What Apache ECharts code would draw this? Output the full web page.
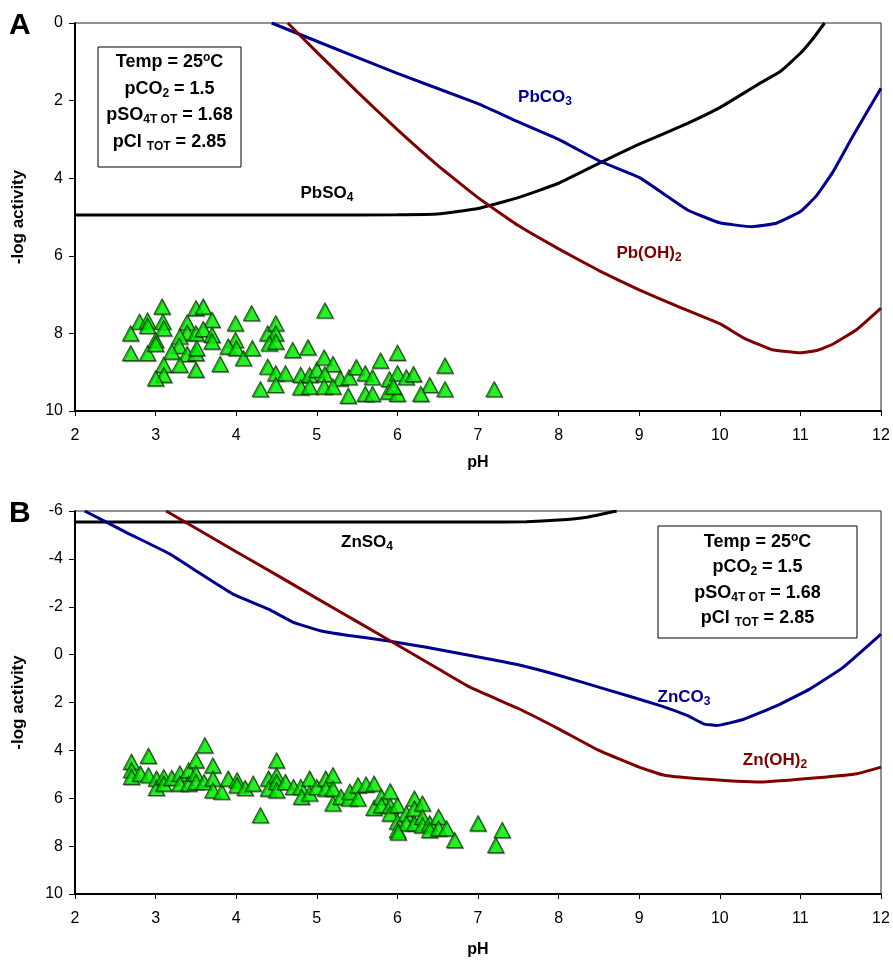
<!DOCTYPE html>
<html>
<head>
<meta charset="utf-8">
<script src="https://cdn.jsdelivr.net/npm/echarts@6/dist/echarts.min.js"></script>
<style>
  html, body { margin: 0; padding: 0; background: #fff; }
  #chart { width: 893px; height: 960px; }
</style>
</head>
<body>
<div id="chart"></div>
<script>
// ---------- Panel A: lead solubility curves (-log activity vs pH) ----------
const pbso4Ph  = [2, 3, 4, 5, 6, 6.5, 7.0, 7.5, 8.0, 8.5, 9.0, 9.5, 10.0, 10.5, 10.75, 11.0, 11.15, 11.3];
const pbso4Val = [4.95, 4.95, 4.95, 4.95, 4.94, 4.92, 4.78, 4.5, 4.13, 3.62, 3.12, 2.68, 2.18, 1.55, 1.25, 0.78, 0.42, 0];

const pbco3Ph  = [4.44, 5, 6, 7, 7.5, 8, 8.5, 9, 9.3, 9.6, 10, 10.4, 10.7, 11, 11.2, 11.4, 11.65, 12];
const pbco3Val = [0, 0.47, 1.3, 2.08, 2.55, 3.0, 3.55, 3.98, 4.4, 4.82, 5.15, 5.25, 5.16, 4.86, 4.45, 3.85, 2.92, 1.68];

const pboh2Ph  = [4.64, 5, 5.5, 6, 6.5, 7, 7.5, 8, 8.5, 9, 9.5, 10, 10.3, 10.65, 11, 11.2, 11.4, 11.7, 12];
const pboh2Val = [0, 0.75, 1.77, 2.75, 3.67, 4.5, 5.22, 5.82, 6.38, 6.88, 7.32, 7.75, 8.12, 8.42, 8.5, 8.44, 8.28, 7.9, 7.35];

// measured Pb activities in samples
const pbSamplePh  = [3.08, 3.50, 3.59, 2.80, 2.90, 3.09, 2.90, 3.10, 2.69, 3.00, 3.39, 3.70, 3.39, 3.50, 3.59, 3.70, 3.70, 3.30, 3.29, 3.20,
                     3.39, 3.50, 3.51, 2.69, 2.90, 3.00, 3.10, 3.30, 3.50, 3.80, 3.10, 3.00, 3.99, 3.99, 3.90, 4.00, 4.09, 4.19, 4.20, 4.39,
                     4.49, 4.49, 4.41, 4.49, 4.70, 4.89, 4.39, 4.49, 4.61, 4.80, 4.91, 5.00, 4.30, 4.49, 4.80, 4.91, 5.10, 5.09, 5.20, 5.79,
                     6.00, 6.59, 5.10, 5.29, 5.40, 5.49, 5.60, 5.69, 5.90, 6.00, 6.11, 6.20, 6.40, 6.59, 7.20, 5.09, 5.20, 5.39, 5.60, 5.69,
                     5.89, 6.00, 5.95, 6.29];
const pbSampleAct = [7.31, 7.35, 7.31, 7.70, 7.67, 7.70, 7.81, 7.87, 8.00, 8.17, 7.72, 7.65, 7.98, 8.00, 7.89, 8.04, 8.21, 8.08, 8.32, 8.47,
                     8.53, 8.51, 8.38, 8.51, 8.51, 8.27, 8.81, 8.81, 8.94, 8.79, 9.07, 9.16, 7.74, 8.17, 8.34, 8.38, 8.64, 7.48, 8.38, 8.00,
                     7.74, 8.00, 8.26, 8.21, 8.43, 8.36, 8.86, 9.03, 9.03, 9.07, 9.07, 8.94, 9.44, 9.33, 9.39, 9.37, 7.41, 8.62, 8.79, 8.70,
                     8.50, 8.83, 9.05, 9.16, 9.13, 8.87, 9.03, 9.13, 9.18, 9.03, 9.13, 9.05, 9.33, 9.44, 9.44, 9.37, 9.37, 9.61, 9.56, 9.56,
                     9.50, 9.56, 9.37, 9.56];

// ---------- Panel B: zinc solubility curves ----------
const znso4Ph  = [2, 3, 4, 5, 6, 7, 7.6, 8.0, 8.35, 8.72];
const znso4Val = [-5.54, -5.54, -5.54, -5.54, -5.54, -5.54, -5.55, -5.62, -5.74, -6.0];

const znco3Ph  = [2.12, 2.64, 3.18, 3.47, 3.96, 4.4, 4.71, 5.04, 5.4, 5.87, 6.36, 7.02, 7.5, 8.02, 8.6, 9.26, 9.6, 9.8, 9.96, 10.29, 10.71, 11.12, 11.53, 12];
const znco3Val = [-6.0, -5.1, -4.2, -3.57, -2.53, -1.9, -1.35, -1.0, -0.8, -0.58, -0.31, 0.11, 0.42, 0.88, 1.46, 2.13, 2.55, 2.89, 2.96, 2.71, 2.13, 1.43, 0.53, -0.86];

const znoh2Ph  = [3.13, 3.5, 4, 4.5, 5, 5.5, 6, 6.5, 6.9, 7.5, 8.0, 8.5, 9.0, 9.3, 9.7, 10.5, 11.3, 11.7, 12];
const znoh2Val = [-6.0, -5.28, -4.30, -3.33, -2.35, -1.38, -0.40, 0.58, 1.36, 2.25, 3.1, 4.0, 4.7, 5.03, 5.17, 5.32, 5.12, 4.98, 4.7];

// measured Zn activities in samples
const znSamplePh  = [2.70, 2.70, 2.70, 2.81, 2.91, 2.91, 3.01, 3.01, 3.10, 3.10, 3.20, 3.30, 3.30, 3.41, 3.41, 3.50, 3.50, 3.50, 3.61, 3.60,
                     3.71, 3.71, 3.71, 3.82, 3.90, 4.01, 4.01, 4.11, 4.21, 4.30, 4.40, 4.40, 4.50, 4.50, 4.50, 4.50, 4.61, 4.71, 4.80, 4.81,
                     4.91, 4.91, 5.00, 5.11, 5.20, 5.11, 5.20, 5.20, 5.30, 5.40, 5.41, 5.51, 5.51, 5.61, 5.71, 5.71, 5.80, 5.80, 5.91, 5.91,
                     5.91, 6.00, 6.00, 6.00, 6.11, 6.11, 6.21, 6.21, 6.21, 6.31, 6.31, 6.31, 6.40, 6.40, 6.51, 6.51, 6.61, 6.71, 7.00, 7.30,
                     7.22, 6.01];
const znSampleAct = [4.48, 4.83, 5.11, 4.97, 4.23, 5.04, 5.18, 5.57, 5.11, 5.39, 5.15, 4.97, 5.39, 4.83, 5.39, 4.42, 4.97, 5.32, 3.79, 5.32,
                     4.63, 5.18, 5.67, 5.73, 5.18, 5.25, 5.46, 5.57, 5.39, 6.71, 5.18, 5.60, 4.42, 5.04, 5.32, 5.67, 5.32, 5.53, 5.53, 5.94,
                     5.18, 5.80, 5.53, 5.18, 5.04, 5.60, 5.60, 6.22, 5.94, 6.01, 5.73, 5.46, 6.01, 5.43, 5.39, 6.40, 5.94, 6.29, 5.71, 6.32,
                     6.64, 6.29, 6.98, 7.33, 6.64, 7.05, 6.01, 6.43, 7.05, 6.22, 6.78, 7.13, 7.05, 7.33, 6.78, 7.26, 7.26, 7.75, 7.05, 7.33,
                     7.96, 7.43];

// axis ranges / tick steps
const phTicks = { min: 2, max: 12, step: 1 };
const pbTicks = { min: 0, max: 10, step: 2 };
const znTicks = { min: -6, max: 10, step: 2 };

const FONT = 'Liberation Sans, Arial, Helvetica, sans-serif';
const BLUE = '#000090';
const RED = '#800000';
const BLACK = '#000000';

function pairs(xs, ys) { return xs.map((x, i) => [x, ys[i]]); }

function curve(name, xs, ys, color, idx) {
  return {
    name, type: 'line', xAxisIndex: idx, yAxisIndex: idx,
    data: pairs(xs, ys), symbol: 'none', smooth: 0.12,
    lineStyle: { color, width: 3 }, z: 3, silent: true
  };
}

function samples(name, xs, ys, idx) {
  return {
    name, type: 'scatter', xAxisIndex: idx, yAxisIndex: idx,
    data: pairs(xs, ys), symbol: 'triangle', symbolSize: [16, 15],
    itemStyle: {
      color: '#00ff00', borderColor: '#0d3a00', borderWidth: 1.2,
      shadowColor: 'rgba(0,0,0,0.35)', shadowOffsetX: 1, shadowOffsetY: 1, shadowBlur: 0
    },
    z: 4, silent: true
  };
}

function xAxisFor(idx, gap) {
  return {
    gridIndex: idx, type: 'value', min: phTicks.min, max: phTicks.max, interval: phTicks.step,
    name: 'pH', nameLocation: 'middle', nameGap: gap,
    nameTextStyle: { fontFamily: FONT, fontWeight: 'bold', fontSize: 16, color: '#000' },
    axisLine: { show: true, onZero: false, lineStyle: { color: '#000', width: 2 } },
    axisTick: { show: true, length: 5, lineStyle: { color: '#000', width: 1 } },
    axisLabel: { fontFamily: FONT, fontSize: 16, color: '#000', margin: 17 },
    splitLine: { show: false }
  };
}

function yAxisFor(idx, t) {
  return {
    gridIndex: idx, type: 'value', min: t.min, max: t.max, interval: t.step, inverse: true,
    name: '-log activity', nameLocation: 'middle', nameGap: 48, nameRotate: 90,
    nameTextStyle: { fontFamily: FONT, fontWeight: 'bold', fontSize: 17, color: '#000' },
    axisLine: { show: true, onZero: false, lineStyle: { color: '#000', width: 2 } },
    axisTick: { show: true, length: 6, lineStyle: { color: '#000', width: 1 } },
    axisLabel: { fontFamily: FONT, fontSize: 16, color: '#000', margin: 12 },
    splitLine: { show: false }
  };
}

const subStyle = { fontFamily: FONT, fontWeight: 'bold', fontSize: 12, lineHeight: 13, verticalAlign: 'bottom' };
const supStyle = { fontFamily: FONT, fontWeight: 'bold', fontSize: 12, lineHeight: 13, verticalAlign: 'top' };

function richText(text, cx, cy, color, size) {
  return {
    type: 'text', silent: true, z: 10,
    style: {
      text, x: cx, y: cy, fill: color,
      font: 'bold ' + size + 'px ' + FONT,
      align: 'center', verticalAlign: 'middle',
      textAlign: 'center', textVerticalAlign: 'middle',
      lineHeight: 21,
      rich: {
        sub: Object.assign({ fill: color }, subStyle),
        sup: Object.assign({ fill: color }, supStyle)
      }
    }
  };
}

function conditionBox(x, y, w, h, lineYs) {
  const cx = x + w / 2;
  const lines = [
    'Temp = 25{sup|o}C',
    'pCO{sub|2} = 1.5',
    'pSO{sub|4T OT} = 1.68',
    'pCl {sub|TOT} = 2.85'
  ];
  const els = [{
    type: 'rect', silent: true, z: 9,
    shape: { x, y, width: w, height: h },
    style: { fill: '#fff', stroke: '#000', lineWidth: 1 }
  }];
  lines.forEach((t, i) => els.push(richText(t, cx, lineYs[i], '#000', 18)));
  return els;
}

const chart = echarts.init(document.getElementById('chart'), null, { renderer: 'canvas' });

chart.setOption({
  animation: false,
  backgroundColor: '#fff',
  grid: [
    { left: 75, right: 12, top: 23, height: 388, show: true, borderColor: '#222', borderWidth: 1, backgroundColor: 'transparent' },
    { left: 75, right: 12, top: 511, height: 383, show: true, borderColor: '#222', borderWidth: 1, backgroundColor: 'transparent' }
  ],
  xAxis: [xAxisFor(0, 44), xAxisFor(1, 48)],
  yAxis: [yAxisFor(0, pbTicks), yAxisFor(1, znTicks)],
  series: [
    curve('PbSO4', pbso4Ph, pbso4Val, BLACK, 0),
    curve('PbCO3', pbco3Ph, pbco3Val, BLUE, 0),
    curve('Pb(OH)2', pboh2Ph, pboh2Val, RED, 0),
    samples('Pb samples', pbSamplePh, pbSampleAct, 0),
    curve('ZnSO4', znso4Ph, znso4Val, BLACK, 1),
    curve('ZnCO3', znco3Ph, znco3Val, BLUE, 1),
    curve('Zn(OH)2', znoh2Ph, znoh2Val, RED, 1),
    samples('Zn samples', znSamplePh, znSampleAct, 1)
  ],
  graphic: [
    { type: 'text', left: 9, top: 11, silent: true, style: { text: 'A', font: 'bold 30px ' + FONT, fill: '#000' } },
    { type: 'text', left: 9, top: 499, silent: true, style: { text: 'B', font: 'bold 30px ' + FONT, fill: '#000' } },
    richText('PbCO{sub|3}', 545, 97, BLUE, 17),
    richText('PbSO{sub|4}', 327, 193, BLACK, 17),
    richText('Pb(OH){sub|2}', 649, 253, RED, 17),
    richText('ZnSO{sub|4}', 367, 542, BLACK, 17),
    richText('ZnCO{sub|3}', 684, 697, BLUE, 17),
    richText('Zn(OH){sub|2}', 775, 760, RED, 17),
    ...conditionBox(98, 47, 143, 120, [62, 89, 115, 142]),
    ...conditionBox(658, 526, 199, 112, [542, 567, 593, 618])
  ]
});
</script>
</body>
</html>
